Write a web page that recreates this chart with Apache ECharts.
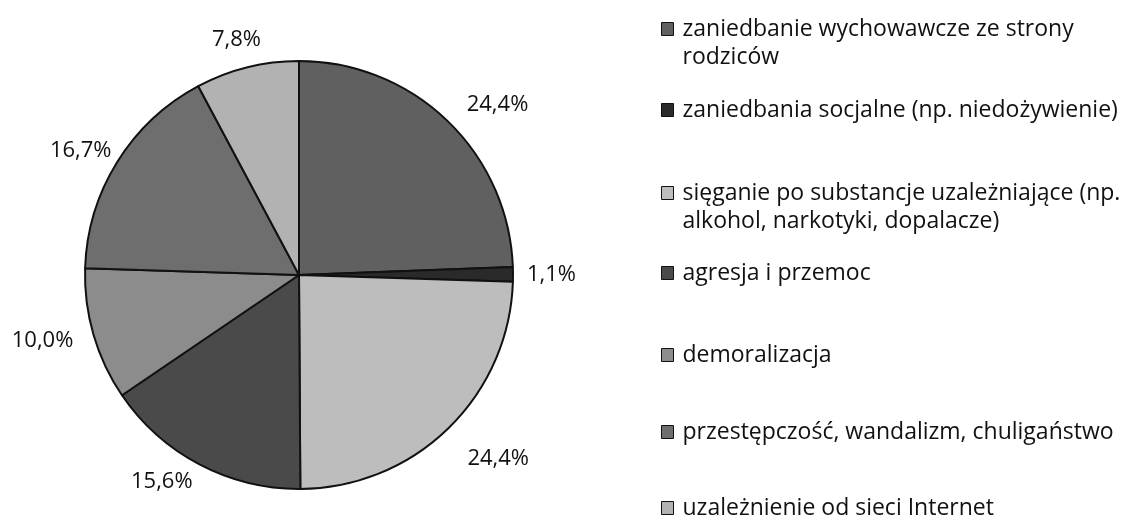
<!DOCTYPE html>
<html>
<head>
<meta charset="utf-8">
<script src="https://cdn.jsdelivr.net/npm/echarts@6/dist/echarts.min.js"></script>
<style>
  html, body { margin: 0; padding: 0; background: #ffffff; }
  #chart { width: 1127px; height: 524px; }
</style>
</head>
<body>
<div id="chart"></div>
<script>
// Problem categories (legend order = slice order, clockwise from 12 o'clock)
const categories = [
  'zaniedbanie wychowawcze ze strony\nrodziców',
  'zaniedbania socjalne (np. niedożywienie)',
  'sięganie po substancje uzależniające (np.\nalkohol, narkotyki, dopalacze)',
  'agresja i przemoc',
  'demoralizacja',
  'przestępczość, wandalizm, chuligaństwo',
  'uzależnienie od sieci Internet'
];
// Share of answers, in percent
const shares = [24.4, 1.1, 24.4, 15.6, 10.0, 16.7, 7.8];

// Styling
const sliceColors = ['#606060', '#2a2a2a', '#bdbdbd', '#4a4a4a', '#8c8c8c', '#6e6e6e', '#b2b2b2'];
// per-slice label placement tweaks: radial line length and gap to the text
const labelLineLen = [22, 22, 43, 19, 22, 22, 29];
const labelGap = [0, -12, -15, -6, -5, -17, -25];
const legendLineCentres = [29, 110, 193, 273, 355, 432, 508];
const FONT = '"Open Sans", sans-serif';
const LEG_FS = 23;
const LEG_LH = 28;

const chart = echarts.init(document.getElementById('chart'), null, { renderer: 'canvas' });

const pieData = categories.map((name, i) => ({
  name: name,
  value: shares[i],
  itemStyle: { color: sliceColors[i] },
  label: { distanceToLabelLine: labelGap[i] },
  labelLine: { length: labelLineLen[i] }
}));

// One legend block per entry so each sits on its own row;
// two-line entries get a blank leading line so the marker lines up with the first line
const legends = categories.map((name, i) => {
  const lines = name.split('\n').length;
  const offset = lines > 1 ? 1.5 * LEG_LH : LEG_LH / 2;
  return {
    orient: 'vertical',
    left: 661,
    top: legendLineCentres[i] - offset,
    padding: 0,
    itemWidth: 12,
    itemHeight: 13,
    itemGap: 0,
    selectedMode: false,
    icon: 'rect',
    data: [name],
    formatter: n => (n.indexOf('\n') >= 0 ? '\n' + n : n),
    itemStyle: { borderColor: '#111', borderWidth: 1 },
    textStyle: {
      fontFamily: FONT,
      fontSize: LEG_FS,
      lineHeight: LEG_LH,
      color: '#111',
      padding: [0, 0, 0, 4]
    }
  };
});

chart.setOption({
  backgroundColor: '#ffffff',
  animation: false,
  legend: legends,
  series: [{
    type: 'pie',
    center: [299, 275],
    radius: 214,
    startAngle: 90,
    clockwise: true,
    avoidLabelOverlap: false,
    data: pieData,
    itemStyle: { borderColor: '#111', borderWidth: 2 },
    label: {
      show: true,
      position: 'outside',
      fontFamily: FONT,
      fontSize: 22,
      color: '#111',
      formatter: p => p.value.toFixed(1).replace('.', ',') + '%'
    },
    labelLine: { show: false, length: 22, length2: 4 },
    emphasis: { disabled: true }
  }]
});
</script>
</body>
</html>
